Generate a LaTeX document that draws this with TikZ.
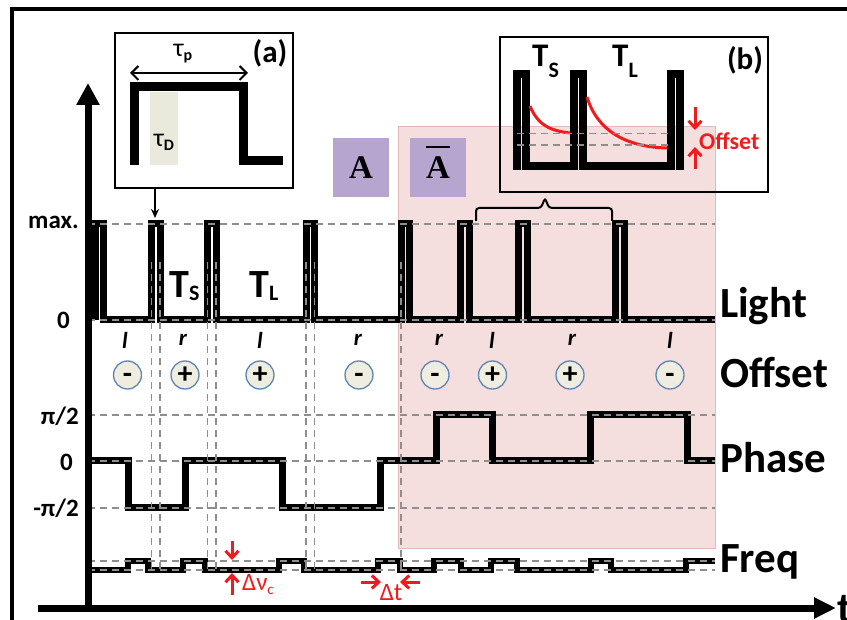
\documentclass[tikz,border=0pt]{standalone}
\usepackage{fontspec}
\setmainfont{Carlito}
\newfontfamily\serifA{Liberation Serif}
\usetikzlibrary{arrows.meta}
\newcommand\myfs[1]{\fontsize{#1}{#1}\selectfont}
\definecolor{pinkbg}{HTML}{F4DEDE}
\definecolor{pinkedge}{HTML}{E4B9B9}
\definecolor{lav}{HTML}{B6A5CF}
\definecolor{dgray}{HTML}{8E8E8E}
\definecolor{circfill}{HTML}{EEEDDF}
\definecolor{circedge}{HTML}{5F86B3}
\definecolor{myred}{HTML}{EE1C1C}
\definecolor{beige}{HTML}{EAEADC}
\begin{document}
\begin{tikzpicture}[x=1pt,y=-1pt,
  trace/.style={line width=7pt, line join=miter, line cap=butt},
  ftrace/.style={line width=6pt, line join=miter, line cap=butt},
  gridl/.style={draw=dgray, line width=1.8pt, dash pattern=on 7pt off 5pt},
  rowlbl/.style={font=\myfs{43}\bfseries, anchor=base west, inner sep=0pt},
  ylbl/.style={font=\myfs{25}\bfseries, anchor=east, inner sep=0pt},
  lr/.style={font=\myfs{23}\bfseries\itshape, inner sep=0pt},
  sgn/.style={circle, draw=circedge, fill=circfill, line width=1.3pt, minimum size=28pt, inner sep=0pt, font=\myfs{30}\bfseries},
  redarr/.style={myred, line width=3pt, -{Straight Barb[length=7pt,width=13pt]}},
  bigT/.style={font=\myfs{40}\bfseries, anchor=base west, inner sep=0pt},
  smallT/.style={font=\myfs{33}\bfseries, anchor=base west, inner sep=0pt},
  lavbox/.style={fill=lav, minimum width=56pt, minimum height=59pt, inner sep=0pt, font=\serifA\bfseries\myfs{33}},
  inset/.style={draw=black, line width=1.5pt}]
\useasboundingbox (0,0) rectangle (847,620);

% outer frame (cut off at right and bottom)
\draw[line width=4pt] (12,630) -- (12,9.5) -- (860,9.5);

% shaded region
\fill[pinkbg, draw=pinkedge, line width=1pt] (398,127) rectangle (715,548);

% A boxes
\node[lavbox] (boxA) at (361,167.5) {A};
\node[lavbox] (boxAbar) at (438,167.5) {A};
\draw[line width=2pt] ([shift={(-12,-20)}]boxAbar.center) -- ([shift={(12,-20)}]boxAbar.center);

% light trace
\draw[trace] (95,320) -- (95,224) -- (103.5,224) -- (103.5,320)
  -- (151.5,320) -- (151.5,224) -- (160,224) -- (160,320)
  -- (207.5,320) -- (207.5,224) -- (216,224) -- (216,320)
  -- (306,320) -- (306,224) -- (314.5,224) -- (314.5,320)
  -- (401,320) -- (401,224) -- (409.5,224) -- (409.5,320)
  -- (460.5,320) -- (460.5,224) -- (469,224) -- (469,320)
  -- (518.5,320) -- (518.5,224) -- (527,224) -- (527,320)
  -- (615.5,320) -- (615.5,224) -- (624,224) -- (624,320)
  -- (715,320);

% phase trace
\draw[trace] (88,461) -- (128,461) -- (128,508) -- (185,508) -- (185,461)
  -- (282,461) -- (282,508) -- (380,508) -- (380,461) -- (436,461)
  -- (436,415) -- (492,415) -- (492,461) -- (590,461) -- (590,415)
  -- (687,415) -- (687,461) -- (715,461);

% frequency trace
\draw[ftrace] (88,570) -- (128,570) -- (128,561) -- (148,561) -- (148,570)
  -- (183,570) -- (183,561) -- (205,561) -- (205,570)
  -- (279,570) -- (279,561) -- (304,561) -- (304,570)
  -- (378,570) -- (378,561) -- (400,561) -- (400,570)
  -- (434,570) -- (434,561) -- (461,561) -- (461,570)
  -- (491,570) -- (491,561) -- (517,561) -- (517,570)
  -- (591,570) -- (591,561) -- (611,561) -- (611,570)
  -- (686,570) -- (686,561) -- (715,561);

% dashed grid lines
\foreach \yy in {224,320,415,461,508,561,570}
  \draw[gridl] (88,\yy) -- (715,\yy);
\foreach \xx in {151.5,160,207.5,216,306,314.5,401}
  \draw[gridl] (\xx,262) -- (\xx,572);

% axes
\coordinate (yb) at (88,612); \coordinate (yt) at (88,83);
\coordinate (xl) at (38,608); \coordinate (xr) at (836,608);
\draw[line width=7pt, -{Triangle[length=22pt,width=22pt]}] (yb) -- (yt);
\draw[line width=7pt, -{Triangle[length=22pt,width=20pt]}] (xl) -- (xr);

% left labels
\node[ylbl] (lmax) at (79,222) {max.};
\node[ylbl] (lz1) at (70,320) {0};
\node[ylbl] (lpi) at (79,416) {π/2};
\node[ylbl] (lz2) at (73,462) {0};
\node[ylbl] (lmpi) at (79,508) {-π/2};

% right labels
\node[rowlbl] (lLight) at (720,318) {Light};
\node[rowlbl] (lOffset) at (720,388) {Offset};
\node[rowlbl] (lPhase) at (720,473) {Phase};
\node[rowlbl] (lFreq) at (720,572) {Freq};
\node[rowlbl] (lt) at (837,622) {t};

% T labels main
\node[bigT] (TS) at (169,298) {T\raisebox{-3pt}{\myfs{22}S}};
\node[bigT] (TL) at (249,298) {T\raisebox{-3pt}{\myfs{22}L}};

% l / r labels
\node[lr] (c1) at (125,340) {l};
\node[lr] (c2) at (183,340) {r};
\node[lr] (c3) at (260,340) {l};
\node[lr] (c4) at (358,340) {r};
\node[lr] (c5) at (439,340) {r};
\node[lr] (c6) at (492,340) {l};
\node[lr] (c7) at (572,340) {r};
\node[lr] (c8) at (670,340) {l};

% sign circles
\node[sgn] (s1) at (127.5,375) {\vphantom{+}-};
\node[sgn] (s2) at (185,375) {+};
\node[sgn] (s3) at (260,375) {+};
\node[sgn] (s4) at (359,375) {\vphantom{+}-};
\node[sgn] (s5) at (435,375) {\vphantom{+}-};
\node[sgn] (s6) at (492.5,375) {+};
\node[sgn] (s7) at (570,375) {+};
\node[sgn] (s8) at (670,375) {\vphantom{+}-};

% inset (a)
\node[inset, minimum width=178pt, minimum height=155pt, inner sep=0pt] (insetA) at (204,110.5) {};
\fill[beige] (150,92) rectangle (178,165);
\draw[line width=9pt, line join=miter] (134,165) -- (134,87) -- (243,87) -- (243,161) -- (283,161);
\coordinate (tpl) at (130,73); \coordinate (tpr) at (248,73);
\draw[line width=2pt, {Straight Barb[length=7pt,width=14pt]}-{Straight Barb[length=7pt,width=14pt]}] (tpl) -- (tpr);
\node[font=\myfs{26}, inner sep=0pt] (taup) at (183,54) {τ\raisebox{-4pt}{\myfs{16}\bfseries p}};
\node[font=\myfs{26}, inner sep=0pt] (tauD) at (164,142) {τ\raisebox{-4pt}{\myfs{16}\bfseries D}};
\node[font=\myfs{31}\bfseries, inner sep=0pt] (la) at (270,53) {(a)};
\coordinate (pulse2top) at (155,218);
\draw[line width=1.5pt, -{Stealth[length=9pt,width=8pt]}] (insetA.south -| pulse2top) -- (pulse2top);

% inset (b)
\node[inset, minimum width=268pt, minimum height=155pt, inner sep=0pt] (insetB) at (634,114.5) {};
\draw[line width=7.5pt, line join=miter] (517,170) -- (517,74) -- (526,74) -- (526,166)
  -- (574,166) -- (574,74) -- (583,74) -- (583,166)
  -- (671,166) -- (671,74) -- (680,74) -- (680,170);
\draw[myred, line width=3pt] (530,106) .. controls (538,126) and (552,131) .. (570,133);
\draw[myred, line width=3pt] (587,97) .. controls (597,130) and (625,147) .. (667,148);
\draw[gridl, line width=1.5pt] (517,133.5) -- (668,133.5);
\draw[gridl, line width=1.5pt] (517,145) -- (668,145);
\node[smallT] (TSb) at (532,67) {T\raisebox{-11pt}{\myfs{22}S}};
\node[smallT] (TLb) at (612,67) {T\raisebox{-11pt}{\myfs{22}L}};
\node[font=\myfs{31}\bfseries, inner sep=0pt] (lb) at (745,60) {(b)};
\coordinate (o1) at (695,107); \coordinate (o2) at (695,130);
\coordinate (o3) at (695,169); \coordinate (o4) at (695,147);
\draw[redarr] (o1) -- (o2);
\draw[redarr] (o3) -- (o4);
\node[font=\myfs{24}\bfseries, text=myred, anchor=west, inner sep=0pt] (loff) at (699,141) {Offset};

% brace under inset (b)
\draw[line width=2pt, rounded corners=3pt] (476,221) -- (476,208) -- (541,208) -- (545,198) -- (549,208) -- (612,208) -- (612,221);

% red annotations bottom
\coordinate (d1) at (232,541); \coordinate (d2) at (232,560);
\coordinate (d3) at (232,595); \coordinate (d4) at (232,573);
\draw[redarr] (d1) -- (d2);
\draw[redarr] (d3) -- (d4);
\node[font=\myfs{25}, text=myred, inner sep=0pt] (ldnu) at (258,585) {Δν\raisebox{-4pt}{\myfs{15}c}};
\coordinate (t1) at (361,582); \coordinate (t2) at (381,582);
\coordinate (t3) at (420,582); \coordinate (t4) at (400,582);
\draw[redarr] (t1) -- (t2);
\draw[redarr] (t3) -- (t4);
\node[font=\myfs{25}, text=myred, inner sep=0pt] (ldt) at (391,593) {Δt};
\end{tikzpicture}
\end{document}
